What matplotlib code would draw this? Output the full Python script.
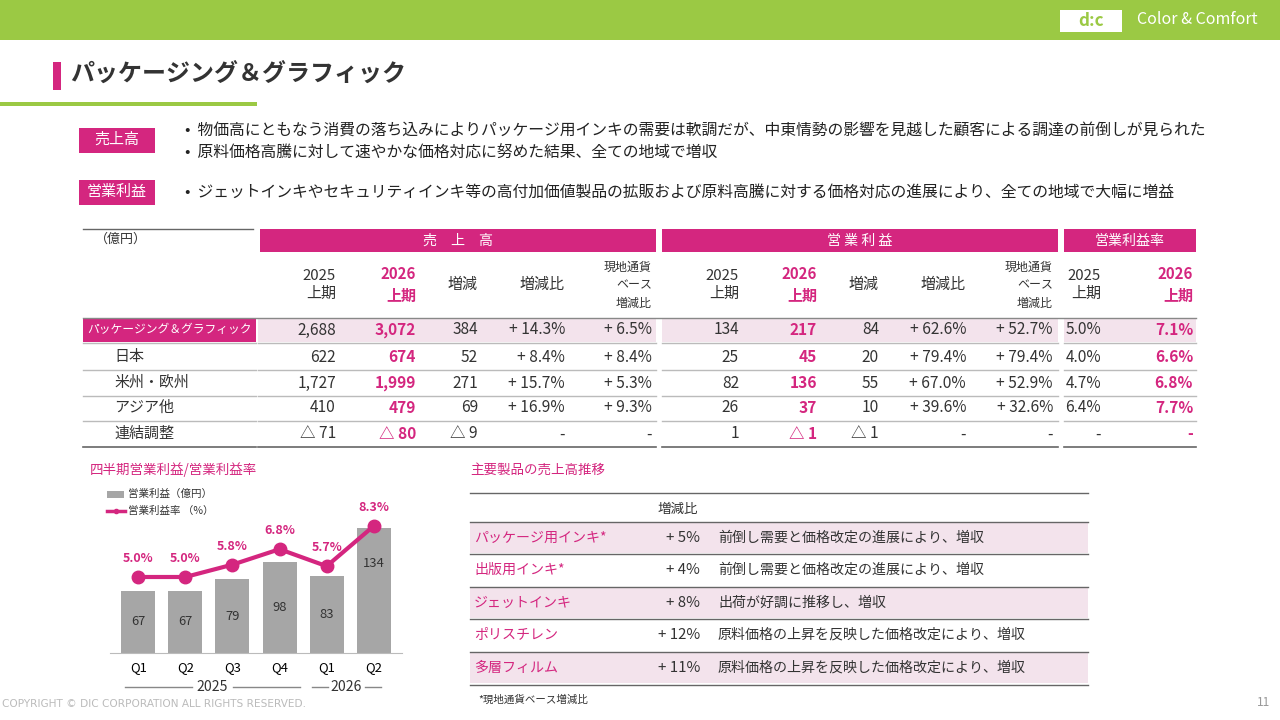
import matplotlib
matplotlib.use("Agg")
import matplotlib.pyplot as plt
from matplotlib.patches import Rectangle

plt.rcParams['font.family'] = ['Noto Sans CJK JP', 'DejaVu Sans']

MAG = "#D4267F"
GREEN = "#9BC944"
PINK_BG = "#F3E3EC"
GRAY_TXT = "#333333"

# --- data: main table ---
row_labels = ["パッケージング＆グラフィック", "日本", "米州・欧州", "アジア他", "連結調整"]
sales_2025 = ["2,688", "622", "1,727", "410", "△ 71"]
sales_2026 = ["3,072", "674", "1,999", "479", "△ 80"]
sales_diff = ["384", "52", "271", "69", "△ 9"]
sales_pct = ["+ 14.3%", "+ 8.4%", "+ 15.7%", "+ 16.9%", "-"]
sales_local = ["+ 6.5%", "+ 8.4%", "+ 5.3%", "+ 9.3%", "-"]
op_2025 = ["134", "25", "82", "26", "1"]
op_2026 = ["217", "45", "136", "37", "△ 1"]
op_diff = ["84", "20", "55", "10", "△ 1"]
op_pct = ["+ 62.6%", "+ 79.4%", "+ 67.0%", "+ 39.6%", "-"]
op_local = ["+ 52.7%", "+ 79.4%", "+ 52.9%", "+ 32.6%", "-"]
margin_2025 = ["5.0%", "4.0%", "4.7%", "6.4%", "-"]
margin_2026 = ["7.1%", "6.6%", "6.8%", "7.7%", "-"]

# --- data: quarterly chart ---
quarters = ["Q1", "Q2", "Q3", "Q4", "Q1", "Q2"]
op_profit = [67, 67, 79, 98, 83, 134]
op_margin = [5.0, 5.0, 5.8, 6.8, 5.7, 8.3]

# --- data: products ---
products = ["パッケージ用インキ*", "出版用インキ*", "ジェットインキ", "ポリスチレン", "多層フィルム"]
prod_change = ["+ 5%", "+ 4%", "+ 8%", "+ 12%", "+ 11%"]
prod_comment = ["前倒し需要と価格改定の進展により、増収",
                "前倒し需要と価格改定の進展により、増収",
                "出荷が好調に推移し、増収",
                "原料価格の上昇を反映した価格改定により、増収",
                "原料価格の上昇を反映した価格改定により、増収"]

fig = plt.figure(figsize=(12.8, 7.2), dpi=100)
ax = fig.add_axes([0, 0, 1, 1])
ax.set_xlim(0, 1280)
ax.set_ylim(720, 0)
ax.axis("off")


def px(s):
    return s * 0.72


def T(x, y, s, size=15, color=GRAY_TXT, ha="left", weight="normal", **kw):
    ax.text(x, y, s, fontsize=px(size), color=color, ha=ha, va="center", weight=weight, **kw)


def box(x0, y0, x1, y1, color, z=0):
    ax.add_patch(Rectangle((x0, y0), x1 - x0, y1 - y0, facecolor=color, edgecolor="none", zorder=z))


def hline(x0, x1, y, color="#999999", lw=1):
    ax.plot([x0, x1], [y, y], color=color, lw=lw, zorder=2)


# header band
box(0, 0, 1280, 40, GREEN)
box(1060, 10, 1122, 32, "white")
T(1091, 21, "d:c", 17, color=GREEN, ha="center", weight="bold")
T(1197, 20, "Color & Comfort", 16, color="white", ha="center")

# title
box(53, 62, 61, 90, MAG)
T(70, 75, "パッケージング＆グラフィック", 24, color="#333333", weight="bold")
box(0, 102, 257, 106, GREEN)

# bullet boxes
box(79, 128, 155, 153, MAG)
T(117, 140, "売上高", 15, color="white", ha="center")
T(185, 130, "•  物価高にともなう消費の落ち込みによりパッケージ用インキの需要は軟調だが、中東情勢の影響を見越した顧客による調達の前倒しが見られた", 15.8, color="#222222")
T(185, 153, "•  原料価格高騰に対して速やかな価格対応に努めた結果、全ての地域で増収", 15.8, color="#222222")
box(79, 180, 155, 205, MAG)
T(117, 192, "営業利益", 15, color="white", ha="center")
T(185, 192, "•  ジェットインキやセキュリティインキ等の高付加価値製品の拡販および原料高騰に対する価格対応の進展により、全ての地域で大幅に増益", 15.8, color="#222222")

# main table
hline(83, 253, 229, "#666666")
T(95, 239, "（億円）", 13)
box(260, 229, 656, 252, MAG)
T(458, 241, "売　上　高", 14, color="white", ha="center")
box(662, 229, 1058, 252, MAG)
T(860, 241, "営 業 利 益", 14, color="white", ha="center")
box(1064, 229, 1196, 252, MAG)
T(1130, 241, "営業利益率", 14, color="white", ha="center")

rights = [336, 416, 478, 565, 652, 739, 817, 879, 966, 1053, 1101, 1193]
subhead = ["2025\n上期", "2026\n上期", "増減", "増減比", "現地通貨\nベース\n増減比",
           "2025\n上期", "2026\n上期", "増減", "増減比", "現地通貨\nベース\n増減比",
           "2025\n上期", "2026\n上期"]
for i, (r, s) in enumerate(zip(rights, subhead)):
    bold = i in (1, 6, 11)
    size = 12 if "現地" in s else 15
    ax.text(r, 285, s, fontsize=px(size), color=MAG if bold else GRAY_TXT, ha="right", va="center",
            weight="bold" if bold else "normal", linespacing=1.5 if "現地" in s else 1.4)
hline(83, 1196, 318, "#888888")

cols = [sales_2025, sales_2026, sales_diff, sales_pct, sales_local,
        op_2025, op_2026, op_diff, op_pct, op_local, margin_2025, margin_2026]
row_y = [330, 357, 383, 408, 434]
seg_edges = [(258, 656), (662, 1058), (1064, 1196)]
for ri, y in enumerate(row_y):
    if ri == 0:
        for a, b in seg_edges:
            box(a, y - 12, b, y + 12, PINK_BG)
        box(83, y - 12, 256, y + 12, MAG)
        T(87, y, row_labels[ri], 11.8, color="white")
    else:
        T(114, y, row_labels[ri], 15)
    for ci, (r, col) in enumerate(zip(rights, cols)):
        bold = ci in (1, 6, 11)
        T(r, y, col[ri], 15.5, color=MAG if bold else GRAY_TXT, ha="right",
          weight="bold" if bold else "normal")
    for a, b in [(83, 256)] + seg_edges:
        hline(a, b, y + 13, "#BBBBBB" if ri < 4 else "#666666", 1 if ri < 4 else 1.2)

# product table
T(470, 470, "主要製品の売上高推移", 13.5, color=MAG)
hline(470, 1088, 493, "#666666")
T(678, 509, "増減比", 13.5, ha="center")
prod_y = [538, 570, 603, 635, 668]
for i, y in enumerate(prod_y):
    if i % 2 == 0:
        box(470, y - 15, 1088, y + 15, PINK_BG)
    T(474, y, products[i], 14, color=MAG)
    T(700, y, prod_change[i], 15, ha="right")
    T(718, y, prod_comment[i], 14)
    hline(470, 1088, y - 16, "#666666")
hline(470, 1088, 685, "#666666")
T(478, 700, "*現地通貨ベース増減比", 10.5)

# footer
T(2, 704, "COPYRIGHT © DIC CORPORATION ALL RIGHTS RESERVED.", 10.5, color="#BBBBBB", family="DejaVu Sans")
T(1270, 703, "11", 12, color="#999999", ha="right")

# quarterly chart
T(90, 470, "四半期営業利益/営業利益率", 13.5, color=MAG)
cax = fig.add_axes([110 / 1280, 1 - 653 / 720, 292 / 1280, 150 / 720])
xs = range(len(quarters))
cax.bar(xs, op_profit, width=0.72, color="#A6A6A6", label="営業利益（億円）")
cax.set_ylim(0, 161)
cax.set_xlim(-0.6, 5.6)
for x, v in zip(xs, op_profit):
    cax.text(x, v * 0.5 if v < 120 else v * 0.72, str(v), ha="center", va="center", fontsize=px(13), color="#333333")
cax.set_xticks(list(xs))
cax.set_xticklabels(quarters, fontsize=px(13))
cax.tick_params(length=0, pad=6)
cax.set_yticks([])
for s in ["top", "right", "left"]:
    cax.spines[s].set_visible(False)
cax.spines["bottom"].set_color("#BBBBBB")
cax.patch.set_alpha(0)

lax = cax.twinx()
lax.plot(xs, op_margin, color=MAG, lw=3, marker="o", ms=9, label="営業利益率 （%）")
lax.set_ylim(0.08, 9.79)
lax.axis("off")
for x, v in zip(xs, op_margin):
    lax.text(x, v + 1.2, f"{v:.1f}%", ha="center", va="center", fontsize=px(12.5),
             color=MAG, weight="bold")

# legend drawn by hand in slide coords
box(107, 491, 124, 498, "#A6A6A6")
T(128, 494, "営業利益（億円）", 10.5)
ax.plot([107, 125], [511, 511], color=MAG, lw=2.5)
ax.plot([116], [511], "o", color=MAG, ms=3)
T(128, 511, "営業利益率 （%）", 10.5)

# year labels
hline(125, 192, 687, "#888888")
hline(233, 300, 687, "#888888")
T(212, 687, "2025", 14, ha="center")
hline(312, 328, 687, "#888888")
hline(365, 381, 687, "#888888")
T(346, 687, "2026", 14, ha="center")

fig.savefig("out.png", dpi=100)
